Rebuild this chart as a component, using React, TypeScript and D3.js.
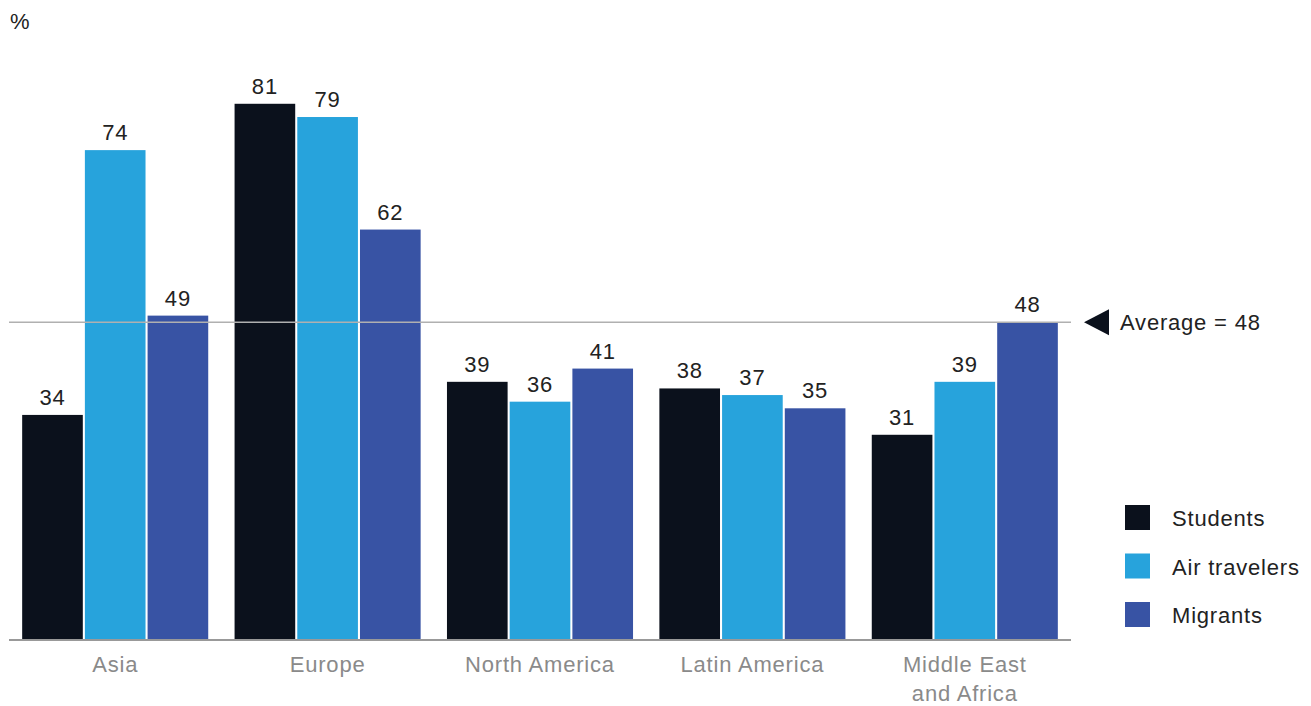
import React from "react";
import * as d3 from "d3";

const regions = ["Asia", "Europe", "North America", "Latin America", "Middle East|and Africa"];
const seriesNames = ["Students", "Air travelers", "Migrants"];
const students = [34, 81, 39, 38, 31];
const airTravelers = [74, 79, 36, 37, 39];
const migrants = [49, 62, 41, 35, 48];
const average = 48;
const colors = ["#0b111c", "#27a3dc", "#3853a4"];

const W = 1311;
const H = 706;
const FONT = "'Liberation Sans', Arial, sans-serif";
const FS = 22;
const LS = 0.8;

export default function App() {
  const seriesValues = [students, airTravelers, migrants];
  const x0 = d3.scaleBand<string>().domain(regions).range([9, 1071]).paddingInner(0.124).paddingOuter(0.062);
  const x1 = d3.scaleBand<string>().domain(seriesNames).range([0, x0.bandwidth()]).paddingInner(0.033);
  const y = d3.scaleLinear().domain([0, 100]).range([640, 640 - 662]);

  return (
    <svg width={W} height={H} style={{ position: "absolute", left: 0, top: 0, background: "#fff" }} fontFamily={FONT} letterSpacing={LS}>
      <text x={10} y={29} fontSize={FS} fill="#222">%</text>
      {regions.map((r, i) => (
        <g key={r} transform={`translate(${x0(r)},0)`}>
          {seriesNames.map((s, j) => {
            const v = seriesValues[j][i];
            return (
              <g key={s}>
                <rect x={x1(s)} y={y(v)} width={x1.bandwidth()} height={y(0) - y(v)} fill={colors[j]} />
                <text x={(x1(s) as number) + x1.bandwidth() / 2} y={y(v) - 10} textAnchor="middle" fontSize={FS} fill="#222">{v}</text>
              </g>
            );
          })}
          {r.split("|").map((line, k) => (
            <text key={k} x={x0.bandwidth() / 2} y={672 + k * 29} textAnchor="middle" fontSize={FS} fill="#8a8a8a">{line}</text>
          ))}
        </g>
      ))}
      <line x1={9} x2={1071} y1={y(average)} y2={y(average)} stroke="#b0b0b0" strokeWidth={1.5} />
      <line x1={9} x2={1071} y1={y(0)} y2={y(0)} stroke="#999" strokeWidth={2} />
      <path d={`M1084,${y(average)} L1109,${y(average) - 13} L1109,${y(average) + 13} Z`} fill="#0b111c" />
      <text x={1120} y={y(average) + 8} fontSize={FS} fill="#222">Average = {average}</text>
      {seriesNames.map((s, j) => (
        <g key={s} transform={`translate(1125,${505 + j * 48.5})`}>
          <rect width={25} height={25} fill={colors[j]} />
          <text x={47} y={21} fontSize={FS} fill="#222">{s}</text>
        </g>
      ))}
    </svg>
  );
}
